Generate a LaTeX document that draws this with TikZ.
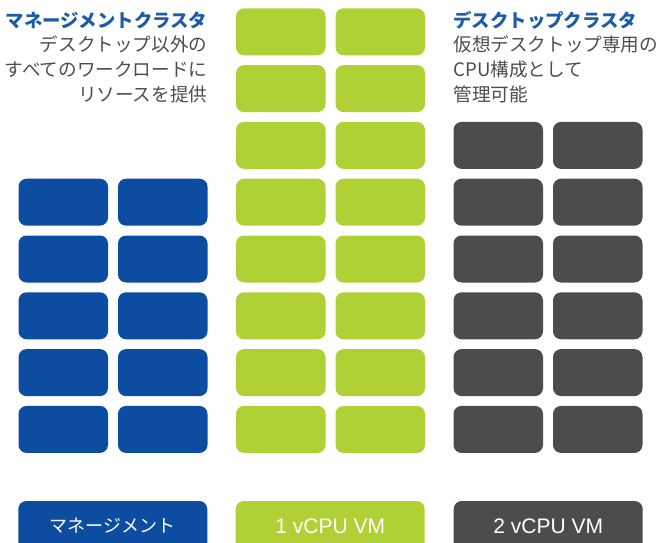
\documentclass[tikz,border=0pt]{standalone}
\usepackage{fontspec}
\newfontfamily\jp{Noto Sans CJK JP}
\newfontfamily\lat{Liberation Sans}
\definecolor{mblue}{HTML}{0D4DA1}
\definecolor{vgreen}{HTML}{B0D135}
\definecolor{dgray}{HTML}{4B4C4E}
\definecolor{tblue}{HTML}{1B5BA8}
\definecolor{tgray}{HTML}{4D4D4F}
\tikzset{
  vmbox/.style={rounded corners=8pt, minimum width=89.5pt, minimum height=47pt, inner sep=0pt, draw=none},
  legbox/.style={rounded corners=8pt, minimum width=189pt, minimum height=50pt, inner sep=0pt, text=white},
  ttl/.style={inner sep=0pt, font=\jp\bfseries\fontsize{18.4}{22}\selectfont, text=tblue},
  body/.style={inner sep=0pt, font=\jp\fontsize{18.6}{22}\selectfont, text=tgray}
}
\begin{document}
\begin{tikzpicture}[x=1pt,y=-1pt]
\useasboundingbox (0,0) rectangle (661,543);
\begin{scope}
\clip (0,0) rectangle (661,543);
% management cluster blocks
\foreach \r in {3,...,7}{
  \node[vmbox, fill=mblue] (m\r a) at (63.25,{31.8+56.8*\r}) {};
  \node[vmbox, fill=mblue] (m\r b) at (162.75,{31.8+56.8*\r}) {};
}
% 1 vCPU blocks
\foreach \r in {0,...,7}{
  \node[vmbox, fill=vgreen] (g\r a) at (280.75,{31.8+56.8*\r}) {};
  \node[vmbox, fill=vgreen] (g\r b) at (380.25,{31.8+56.8*\r}) {};
}
% 2 vCPU blocks
\foreach \r in {2,...,7}{
  \node[vmbox, fill=dgray] (d\r a) at (498.25,{31.8+56.8*\r}) {};
  \node[vmbox, fill=dgray] (d\r b) at (597.75,{31.8+56.8*\r}) {};
}
% legend
\node[legbox, fill=mblue, font=\jp\fontsize{18}{22}\selectfont] (legm) at (112.8,526) {マネージメント};
\node[legbox, fill=vgreen, font=\lat\fontsize{21}{24}\selectfont] (legg) at (330.2,526) {1 vCPU VM};
\node[legbox, fill=dgray, font=\lat\fontsize{21}{24}\selectfont] (legd) at (548.2,526) {2 vCPU VM};
\end{scope}
% left text
\node[ttl, anchor=base east] (mt) at (207.5,27.5) {マネージメントクラスタ};
\node[body, anchor=base east] (m1) at (207.5,52) {デスクトップ以外の};
\node[body, anchor=base east] (m2) at (207.5,76.5) {すべてのワークロードに};
\node[body, anchor=base east] (m3) at (207.5,101) {リソースを提供};
% right text
\node[ttl, anchor=base west] (dt) at (453.3,27.5) {デスクトップクラスタ};
\node[body, anchor=base west] (d1) at (453.3,52) {仮想デスクトップ専用の};
\node[body, anchor=base west] (d2) at (453.3,76.5) {CPU構成として};
\node[body, anchor=base west] (d3) at (453.3,101) {管理可能};
\end{tikzpicture}
\end{document}
